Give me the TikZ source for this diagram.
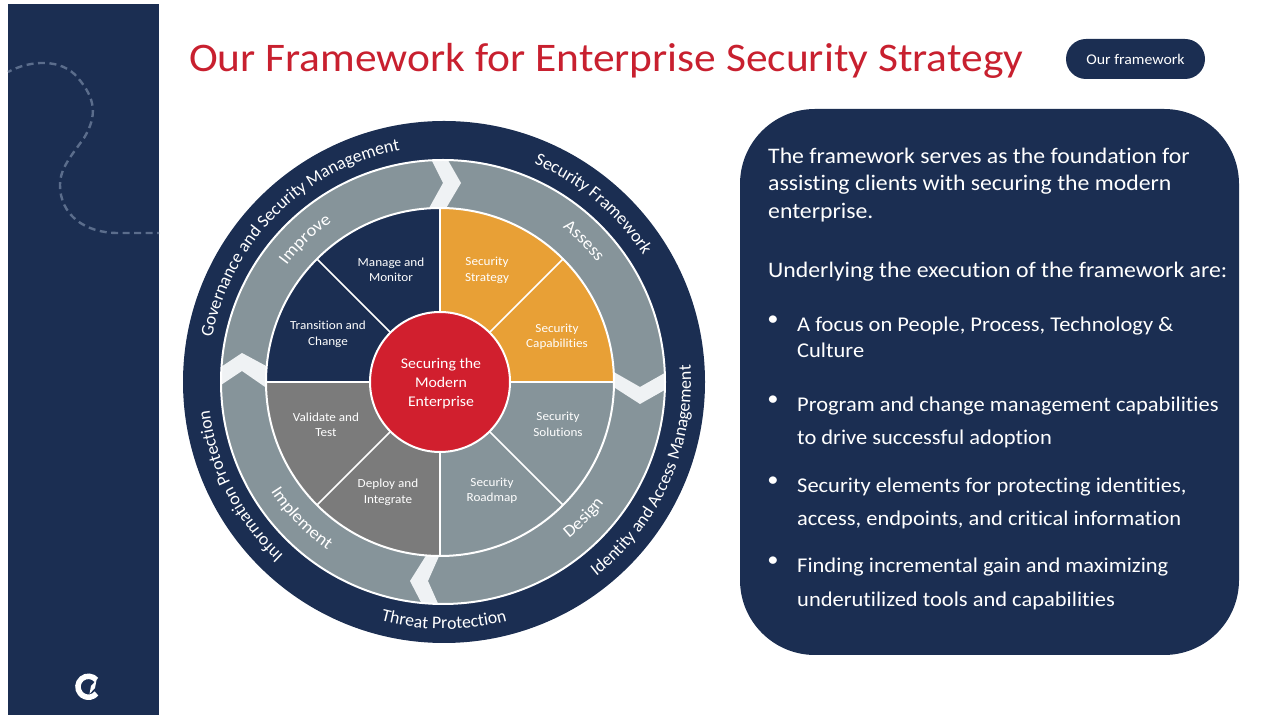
\documentclass[tikz,border=0pt]{standalone}
\usepackage{fontspec}
\setmainfont{Carlito}[FakeStretch=1.07, Ligatures=NoCommon]
\newfontfamily\arcfamily{Carlito}
\usetikzlibrary{decorations.text}
\definecolor{navyblue}{HTML}{1B2E52}
\definecolor{slategray}{HTML}{86949A}
\definecolor{wedgegray}{HTML}{7B7B7B}
\definecolor{wedgeorange}{HTML}{E8A036}
\definecolor{corered}{HTML}{D11F2E}
\definecolor{titlered}{HTML}{C8202F}
\definecolor{palegap}{HTML}{EFF2F4}
\definecolor{dashblue}{HTML}{5B6D8C}
\newcommand{\bandfont}{\arcfamily\fontsize{17.8}{20}\selectfont\color{white}}
\newcommand{\ringfont}{\fontsize{17.3}{19}\selectfont\color{white}}
\begin{document}
\begin{tikzpicture}
[x=1pt, y=1pt,
wedgetext/.style={text=white, align=center, inner sep=0pt, font=\fontsize{12.3}{15.5}\selectfont},
bodytext/.style={text=white, align=left, anchor=base west, inner sep=0pt, font=\fontsize{21}{27}\selectfont},
introtext/.style={bodytext, font=\fontsize{22.2}{27}\selectfont},
bulletdot/.style={text=white, inner sep=0pt, font=\fontsize{21}{21}\selectfont},
bandlabel/.style={decorate, decoration={text along path, text align=center, text={#1}}},
gapshape/.style={fill=palegap},
]
    \useasboundingbox (0,0) rectangle (1280,720);
    \coordinate (wheel) at (440,338);
    \coordinate (band) at (444,338);
    \coordinate (ring) at (443,338);

    \fill[navyblue] (8,5) rectangle (159,716);
    \draw[dashblue, line width=2.4pt, dash pattern=on 7pt off 4.5pt, dash phase=3pt] (8,648) .. controls (30,660) and (62,662) .. (78,642) .. controls (95,622) and (98,605) .. (84,582) .. controls (72,565) and (60,552) .. (60,535) .. controls (60,505) and (85,487) .. (118,487) -- (159,487);
    \draw[white, line width=5.5pt] (96.5,40) arc[start angle=40, end angle=320, radius=10.5];
    \fill[white] (96.5,40) -- (95,32) -- (89.5,26) -- (91,34) -- cycle;

    \node (heading) [text=titlered, anchor=base west, inner sep=0pt, font=\fontsize{40.6}{44}\selectfont] at (189,648) {Our Framework for Enterprise Security Strategy};
    \node (tag) [fill=navyblue, text=white, rounded corners=20pt, minimum width=139pt, minimum height=40pt, inner sep=0pt, font=\fontsize{14.8}{18}\selectfont] at (1135.5,661) {Our framework};

    \fill[navyblue] (band) circle (261);
    \fill[slategray] (ring) circle (222);
    \begin{scope}
        \clip (ring) circle (222);
        \fill[gapshape] (429,565) -- (443,537) -- (428,510) -- (445,510) -- (461,537) -- (445,565) -- cycle;
        \fill[gapshape] (612,349) -- (640,333) -- (670,350) -- (670,333) -- (640,316) -- (612,334) -- cycle;
        \fill[gapshape] (440,166) -- (428,139) -- (440,112) -- (424,112) -- (410,139) -- (427,166) -- cycle;
        \fill[gapshape] (268,353) -- (242,367) -- (218,351) -- (218,333) -- (242,349) -- (268,331) -- cycle;
    \end{scope}
    \draw[white, line width=2pt] (ring) circle (222);

    \foreach \ang/\col in {0/wedgeorange, 45/wedgeorange, 90/navyblue, 135/navyblue, 180/wedgegray, 225/wedgegray, 270/slategray, 315/slategray}
        \fill[\col] (wheel) -- +(\ang:174) arc[start angle=\ang, delta angle=45, radius=174] -- cycle;
    \foreach \ang in {0,45,...,315}
        \draw[white, line width=1.5pt] (wheel) -- +(\ang:174);
    \draw[white, line width=2pt] (wheel) circle (174);
    \node (core) [circle, fill=corered, draw=white, line width=2pt, minimum size=140pt, inner sep=0pt] at (wheel) {};
    \node (corelabel) [text=white, align=center, inner sep=0pt, font=\fontsize{14.8}{19}\selectfont] at (441,336.5) {Securing the\\Modern\\Enterprise};

    \path[bandlabel={|\bandfont|Governance and Security Management}] ([shift={(170:236)}]band) arc[start angle=170, end angle=100, radius=236];
    \path[bandlabel={|\bandfont|Security Framework}] ([shift={(75:236)}]band) arc[start angle=75, end angle=25, radius=236];
    \path[bandlabel={|\bandfont|Identity and Access Management}] ([shift={(-60:247)}]band) arc[start angle=-60, end angle=12, radius=247];
    \path[bandlabel={|\bandfont|Threat Protection}] ([shift={(-115:247)}]band) arc[start angle=-115, end angle=-65, radius=247];
    \path[bandlabel={|\bandfont|Information Protection}] ([shift={(235:236)}]band) arc[start angle=235, end angle=179, radius=236];

    \path[bandlabel={|\ringfont|Improve}] ([shift={(155:195)}]ring) arc[start angle=155, end angle=113, radius=195];
    \path[bandlabel={|\ringfont|Assess}] ([shift={(66:195)}]ring) arc[start angle=66, end angle=24, radius=195];
    \path[bandlabel={|\ringfont|Design}] ([shift={(-65:201)}]ring) arc[start angle=-65, end angle=-23, radius=201];
    \path[bandlabel={|\ringfont|Implement}] ([shift={(199:204)}]ring) arc[start angle=199, end angle=249, radius=204];

    \node (monitor) [wedgetext] at (391,450) {Manage and\\Monitor};
    \node (change) [wedgetext] at (328,385.5) {Transition and\\Change};
    \node (strategy) [wedgetext] at (487,449.5) {Security\\Strategy};
    \node (capabilities) [wedgetext] at (557,383) {Security\\Capabilities};
    \node (solutions) [wedgetext] at (558,295.5) {Security\\Solutions};
    \node (roadmap) [wedgetext] at (492,229) {Security\\Roadmap};
    \node (integrate) [wedgetext] at (388,227.5) {Deploy and\\Integrate};
    \node (test) [wedgetext] at (326,295) {Validate and\\Test};

    \node (panel) [fill=navyblue, rounded corners=75pt, minimum width=499pt, minimum height=546pt, inner sep=0pt] at (989.5,338) {};
    \node (intro) [introtext] at (768,556.5) {The framework serves as the foundation for};
    \node (introb) [introtext] at (768,529.5) {assisting clients with securing the modern};
    \node (introc) [introtext] at (768,501.5) {enterprise.};
    \node (lead) [introtext] at (768,442.5) {Underlying the execution of the framework are:};
    \node (focus) [bodytext] at (797,388) {A focus on People, Process, Technology \&};
    \node (focusb) [bodytext] at (797,362) {Culture};
    \node (program) [bodytext] at (797,308.5) {Program and change management capabilities};
    \node (programb) [bodytext] at (797,275.5) {to drive successful adoption};
    \node (elements) [bodytext] at (797,227.5) {Security elements for protecting identities,};
    \node (elementsb) [bodytext] at (797,194.5) {access, endpoints, and critical information};
    \node (finding) [bodytext] at (797,147) {Finding incremental gain and maximizing};
    \node (findingb) [bodytext] at (797,113.5) {underutilized tools and capabilities};
    \foreach \pos/\dotname in {399/dota, 319/dotb, 238/dotc, 158/dotd}
        \node (\dotname) [bulletdot] at (773,\pos) {•};
\end{tikzpicture}
\end{document}
